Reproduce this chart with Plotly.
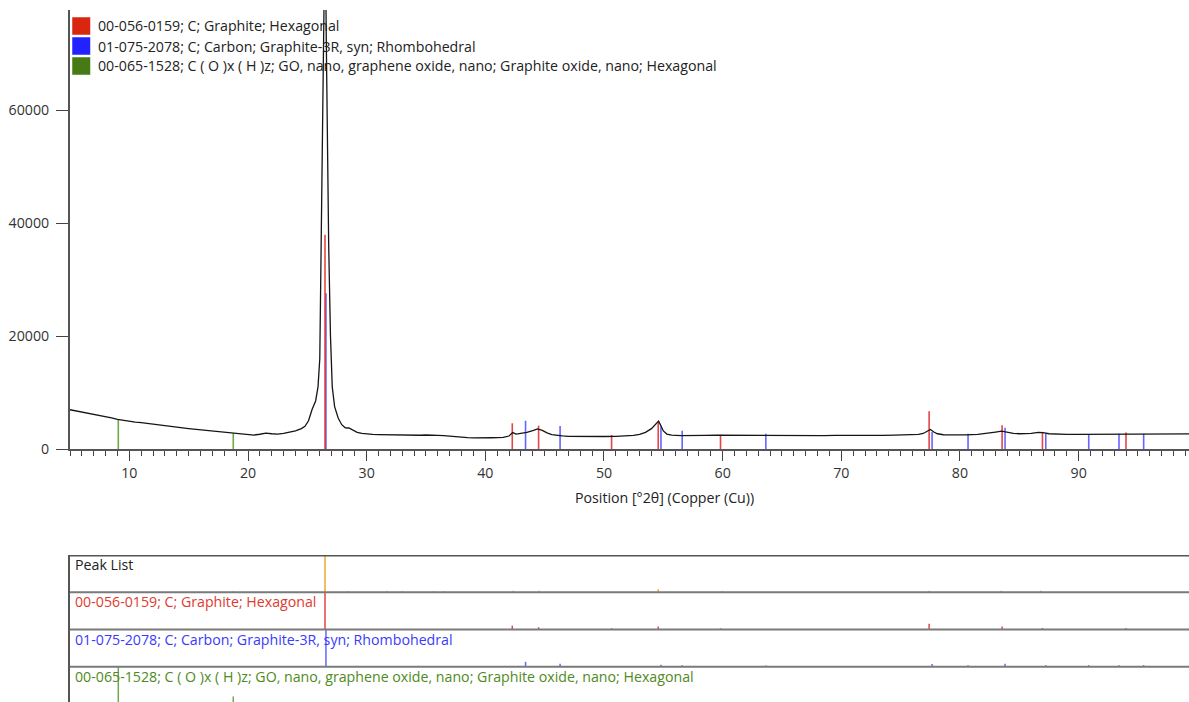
import plotly.graph_objects as go

# ---------------- data ----------------
pattern_x = [5.0, 5.5, 6.0, 6.5, 7.0, 7.5, 8.0, 8.5, 9.0, 9.5, 10.0, 10.5, 11.0, 11.5, 12.0, 12.5,
             13.0, 13.5, 14.0, 14.5, 15.0, 15.5, 16.0, 16.5, 17.0, 17.5, 18.0, 18.5, 19.0, 19.5,
             20.0, 20.5, 21.0, 21.5, 22.0, 22.5, 23.0, 23.5, 24.0, 24.5, 24.8, 25.1, 25.4, 25.7,
             25.9, 26.05, 26.2, 26.3, 26.4, 26.5, 26.6, 26.7, 26.8, 26.95, 27.1, 27.3, 27.6, 27.9,
             28.2, 28.5, 28.8, 29.2, 29.6, 30.0, 30.5, 31.0, 31.5, 32.0, 32.5, 33.0, 33.5, 34.0,
             34.5, 35.0, 35.5, 36.0, 36.5, 37.0, 37.5, 38.0, 38.5, 39.0, 39.5, 40.0, 40.5, 41.0,
             41.5, 42.0, 42.3, 42.6, 43.0, 43.5, 44.0, 44.4, 44.8, 45.2, 45.6, 46.0, 46.5, 47.0,
             48.0, 49.0, 50.0, 51.0, 52.0, 52.5, 53.0, 53.5, 54.0, 54.3, 54.6, 54.8, 55.0, 55.3,
             55.7, 56.5, 57.5, 58.5, 59.5, 60.5, 61.5, 62.5, 63.5, 64.5, 65.5, 66.5, 67.5, 68.5,
             69.5, 70.5, 71.5, 72.5, 73.5, 74.5, 75.5, 76.0, 76.5, 76.9, 77.2, 77.5, 77.8, 78.1,
             78.6, 79.5, 80.5, 81.5, 82.0, 82.5, 83.0, 83.5, 84.0, 84.5, 85.0, 85.5, 86.0, 86.6,
             87.0, 87.5, 88.0, 89.0, 90.0, 91.0, 92.0, 93.0, 94.0, 95.0, 96.0, 97.0, 98.0, 99.3]
pattern_y = [6950, 6760, 6540, 6360, 6140, 5960, 5690, 5510, 5250, 5060, 4900, 4770, 4660, 4510, 4400, 4240,
             4080, 3960, 3810, 3730, 3620, 3510, 3410, 3290, 3190, 3040, 2960, 2840, 2810, 2590,
             2500, 2470, 2610, 2810, 2700, 2640, 2760, 2950, 3200, 3600, 4000, 5000, 7000, 8500,
             11000, 16000, 40000, 58000, 80000, 95000, 72000, 50000, 36000, 20000, 11000, 7500, 5500, 4300,
             3750, 3720, 3420, 2950, 2760, 2660, 2600, 2560, 2530, 2490, 2480, 2450, 2420, 2400,
             2430, 2480, 2510, 2420, 2350, 2250, 2150, 2060, 2000, 1980, 1950, 1960, 1990, 2010,
             2060, 2300, 2900, 2650, 2750, 2950, 3250, 3550, 3300, 2850, 2560, 2400, 2310, 2250,
             2200, 2180, 2210, 2250, 2330, 2400, 2600, 2950, 3600, 4300, 4950, 4100, 3200, 2650,
             2450, 2380, 2330, 2400, 2450, 2430, 2460, 2420, 2450, 2400, 2380, 2350, 2390, 2360,
             2400, 2380, 2420, 2400, 2420, 2450, 2480, 2520, 2600, 2750, 3100, 3450, 3000, 2700,
             2520, 2480, 2500, 2580, 2680, 2800, 3000, 3150, 2950, 2780, 2700, 2680, 2750, 2950,
             2900, 2700, 2640, 2600, 2580, 2600, 2620, 2640, 2620, 2650, 2680, 2690, 2700, 2680]

# reference pattern sticks (position, height in main plot, relative height in bottom panel)
graphite_h_pos = [26.49, 42.27, 44.49, 50.64, 54.57, 59.82, 77.40, 83.55, 86.95, 93.99]
graphite_h_int = [37900, 4550, 4130, 2480, 4900, 2520, 6690, 4200, 2870, 2900]
graphite_h_rel = [1.0, 0.10, 0.06, 0.03, 0.08, 0.03, 0.15, 0.08, 0.04, 0.04]

graphite_r_pos = [26.57, 43.39, 46.30, 54.80, 56.59, 63.64, 77.65, 80.68, 83.80, 87.23, 90.85, 93.40, 95.48]
graphite_r_int = [27560, 5000, 4070, 4000, 3240, 2690, 3000, 2690, 3770, 2690, 2530, 2690, 2690]
graphite_r_rel = [1.0, 0.13, 0.08, 0.05, 0.04, 0.03, 0.07, 0.04, 0.08, 0.04, 0.04, 0.04, 0.04]

go_pos = [9.07, 18.76]
go_int = [5130, 2780]
go_rel = [1.0, 0.2]

peak_list_pos = [18.76, 26.49, 28.45, 31.7, 33.0, 35.67, 36.5, 42.35, 44.54, 54.57, 59.96, 77.40, 83.47, 86.81]
peak_list_rel = [0.03, 1.0, 0.03, 0.03, 0.03, 0.03, 0.03, 0.04, 0.04, 0.08, 0.03, 0.04, 0.04, 0.04]

ref_labels = ["00-056-0159; C; Graphite; Hexagonal",
              "01-075-2078; C; Carbon; Graphite-3R, syn; Rhombohedral",
              "00-065-1528; C ( O )x ( H )z; GO, nano, graphene oxide, nano; Graphite oxide, nano; Hexagonal"]
peak_list_label = "Peak List"
x_title = "Position [°2θ] (Copper (Cu))"
y_ticks = [0, 20000, 40000, 60000]

# ---------------- styling ----------------
W, H = 1189, 702
ML, MR, MT, MB = 70, 0, 10, 0
PW, PH = W - ML - MR, H - MT - MB
FONT = "Open Sans"
FS = 14.2

def px(xp):
    return (xp - ML) / PW

def py(yp):
    return (H - MB - yp) / PH

RED, BLUE, GREEN, ORANGE = "rgba(224,36,36,0.85)", "rgba(50,50,255,0.75)", "rgba(95,160,50,0.9)", "rgba(240,160,40,0.95)"
SQ_COLORS = ["#d8260f", "#2222ff", "#457a14"]
TXT_COLORS = ["#e03a30", "#3a3aff", "#4f8a22"]


def sticks(pos, vals, base=0.0):
    xs, ys = [], []
    for p, v in zip(pos, vals):
        xs += [p, p, None]
        ys += [base, base + v, None]
    return xs, ys


fig = go.Figure()

# main plot sticks
for pos, vals, col in [(go_pos, go_int, GREEN), (graphite_r_pos, graphite_r_int, BLUE),
                       (graphite_h_pos, graphite_h_int, RED)]:
    xs, ys = sticks(pos, vals)
    fig.add_trace(go.Scatter(x=xs, y=ys, mode="lines", line=dict(color=col, width=1.6),
                             hoverinfo="skip", showlegend=False, xaxis="x", yaxis="y"))

# measured pattern
fig.add_trace(go.Scatter(x=pattern_x, y=pattern_y, mode="lines", line=dict(color="#151515", width=1.3),
                         showlegend=False, xaxis="x", yaxis="y"))

# bottom panel sticks
for pos, vals, col, base in [(peak_list_pos, peak_list_rel, ORANGE, 3), (graphite_h_pos, graphite_h_rel, RED, 2),
                             (graphite_r_pos, graphite_r_rel, BLUE, 1), (go_pos, go_rel, GREEN, 0)]:
    xs, ys = sticks(pos, vals, base)
    fig.add_trace(go.Scatter(x=xs, y=ys, mode="lines", line=dict(color=col, width=1.5),
                             hoverinfo="skip", showlegend=False, xaxis="x2", yaxis="y2"))

main_bottom = 449
panel_top = 555

fig.update_layout(
    width=W, height=H,
    margin=dict(l=ML, r=MR, t=MT, b=MB, pad=0, autoexpand=False),
    showlegend=False,
    paper_bgcolor="white", plot_bgcolor="white",
    font=dict(family=FONT, size=FS, color="#333"),
    xaxis=dict(domain=[0, 1], anchor="y", range=[5, 99.3], tick0=0, dtick=10,
               ticks="outside", ticklen=10, tickwidth=1, tickcolor="#444",
               minor=dict(dtick=1, tick0=0, ticks="outside", ticklen=5, tickwidth=1, tickcolor="#444"),
               showline=True, linecolor="#555", linewidth=2, showgrid=False, zeroline=False,
               tickfont=dict(size=FS, color="#333"), automargin=False),
    yaxis=dict(domain=[py(main_bottom), 1], anchor="x", range=[0, 77700], tickvals=y_ticks,
               tickformat="d",
               ticks="outside", ticklen=12, tickwidth=1, tickcolor="#444",
               showline=True, linecolor="#555", linewidth=2, showgrid=False, zeroline=False,
               tickfont=dict(size=FS, color="#333"), ticklabelstandoff=4, automargin=False),
    xaxis2=dict(domain=[0, 1], anchor="y2", matches="x", showticklabels=False, ticks="",
                showline=False, showgrid=False, zeroline=False, automargin=False),
    yaxis2=dict(domain=[0, py(panel_top)], anchor="x2", range=[0.05, 4], showticklabels=False,
                ticks="", showline=True, linecolor="#555", linewidth=2, showgrid=False, zeroline=False,
                automargin=False),
)

shapes = []
# panel top border and row separators
shapes.append(dict(type="line", xref="x2 domain", yref="y2", x0=0, x1=1, y0=4, y1=4,
                   line=dict(color="#555", width=3)))
for yv in [1, 2, 3]:
    shapes.append(dict(type="line", xref="x2 domain", yref="y2", x0=0, x1=1, y0=yv, y1=yv,
                       line=dict(color="#7a7a7a", width=2)))
# legend squares
sq_rows = [(17, 35), (37, 55), (57, 75)]
for (t, b), c in zip(sq_rows, SQ_COLORS):
    shapes.append(dict(type="rect", xref="paper", yref="paper", x0=px(72), x1=px(90.5), y0=py(b), y1=py(t),
                       fillcolor=c, line=dict(color="rgba(255,255,255,0.5)", width=1), layer="above"))
fig.update_layout(shapes=shapes)

ann = []
for (t, b), lab in zip(sq_rows, ref_labels):
    ann.append(dict(text=lab, xref="paper", yref="paper", x=px(96), y=py((t + b) / 2), xanchor="left",
                    yanchor="middle", showarrow=False, font=dict(size=FS, color="#222", family=FONT)))
ann.append(dict(text=x_title, xref="paper", yref="paper", x=px(665), y=py(497), xanchor="center",
                yanchor="middle", showarrow=False, font=dict(size=FS, color="#222", family=FONT)))
row_centers = [564, 601.5, 639, 676.5]
row_texts = [peak_list_label] + ref_labels
row_cols = ["#222"] + TXT_COLORS
for yc, txt, col in zip(row_centers, row_texts, row_cols):
    ann.append(dict(text=txt, xref="paper", yref="paper", x=px(73), y=py(yc), xanchor="left",
                    yanchor="middle", showarrow=False, font=dict(size=FS, color=col, family=FONT)))
fig.update_layout(annotations=ann)

fig.write_html("out.html")
